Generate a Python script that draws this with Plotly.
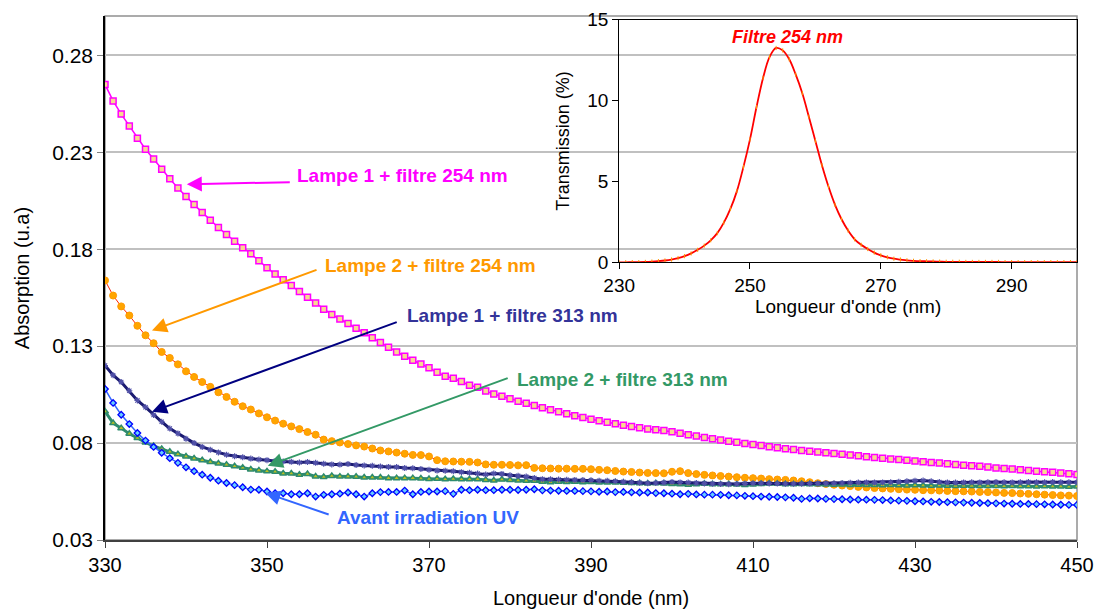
import plotly.graph_objects as go

# ---------------- data ----------------
wavelength = list(range(330, 451))

lampe1_254 = [
    0.2650, 0.2565, 0.2497, 0.2435, 0.2372, 0.2316, 0.2265, 0.2213, 0.2163, 0.2116,
    0.2072, 0.2030, 0.1990, 0.1950, 0.1912, 0.1876, 0.1841, 0.1808, 0.1777, 0.1740,
    0.1705, 0.1672, 0.1642, 0.1613, 0.1582, 0.1552, 0.1522, 0.1490, 0.1463, 0.1440,
    0.1417, 0.1392, 0.1369, 0.1343, 0.1319, 0.1294, 0.1270, 0.1248, 0.1227, 0.1208,
    0.1188, 0.1165, 0.1145, 0.1134, 0.1117, 0.1098, 0.1088, 0.1068, 0.1053, 0.1042,
    0.1029, 0.1016, 0.1005, 0.0994, 0.0982, 0.0972, 0.0962, 0.0951, 0.0941, 0.0932,
    0.0923, 0.0915, 0.0907, 0.0900, 0.0892, 0.0886, 0.0879, 0.0872, 0.0869, 0.0865,
    0.0858, 0.0851, 0.0843, 0.0836, 0.0829, 0.0822, 0.0816, 0.0810, 0.0804, 0.0798,
    0.0793, 0.0787, 0.0781, 0.0776, 0.0771, 0.0767, 0.0762, 0.0758, 0.0754, 0.0750,
    0.0746, 0.0742, 0.0738, 0.0734, 0.0730, 0.0726, 0.0722, 0.0718, 0.0715, 0.0711,
    0.0708, 0.0704, 0.0700, 0.0697, 0.0693, 0.0690, 0.0686, 0.0683, 0.0680, 0.0676,
    0.0672, 0.0669, 0.0666, 0.0662, 0.0659, 0.0655, 0.0652, 0.0649, 0.0645, 0.0642,
    0.0638]

lampe2_254 = [
    0.1639, 0.1561, 0.1505, 0.1458, 0.1405, 0.1356, 0.1315, 0.1270, 0.1239, 0.1206,
    0.1170, 0.1141, 0.1115, 0.1090, 0.1062, 0.1038, 0.1013, 0.0990, 0.0973, 0.0953,
    0.0933, 0.0916, 0.0900, 0.0886, 0.0872, 0.0857, 0.0843, 0.0818, 0.0810, 0.0803,
    0.0795, 0.0788, 0.0782, 0.0772, 0.0762, 0.0757, 0.0751, 0.0745, 0.0739, 0.0738,
    0.0731, 0.0712, 0.0706, 0.0705, 0.0704, 0.0703, 0.0700, 0.0690, 0.0688, 0.0688,
    0.0687, 0.0685, 0.0686, 0.0672, 0.0670, 0.0669, 0.0668, 0.0668, 0.0667, 0.0667,
    0.0665, 0.0662, 0.0660, 0.0656, 0.0653, 0.0651, 0.0648, 0.0646, 0.0645, 0.0644,
    0.0652, 0.0655, 0.0645, 0.0640, 0.0636, 0.0633, 0.0630, 0.0627, 0.0624, 0.0621,
    0.0619, 0.0617, 0.0614, 0.0612, 0.0610, 0.0607, 0.0603, 0.0598, 0.0593, 0.0589,
    0.0585, 0.0581, 0.0578, 0.0574, 0.0571, 0.0568, 0.0566, 0.0564, 0.0562, 0.0560,
    0.0559, 0.0557, 0.0556, 0.0555, 0.0553, 0.0552, 0.0551, 0.0550, 0.0548, 0.0547,
    0.0545, 0.0543, 0.0542, 0.0540, 0.0538, 0.0536, 0.0534, 0.0532, 0.0530, 0.0529,
    0.0527]

lampe1_313 = [
    0.1200, 0.1150, 0.1115, 0.1070, 0.1020, 0.0985, 0.0945, 0.0910, 0.0875, 0.0850,
    0.0822, 0.0800, 0.0780, 0.0765, 0.0752, 0.0740, 0.0732, 0.0727, 0.0720, 0.0715,
    0.0712, 0.0707, 0.0705, 0.0703, 0.0700, 0.0702, 0.0698, 0.0693, 0.0690, 0.0689,
    0.0692, 0.0687, 0.0684, 0.0683, 0.0679, 0.0677, 0.0676, 0.0671, 0.0670, 0.0666,
    0.0662, 0.0658, 0.0657, 0.0655, 0.0650, 0.0647, 0.0643, 0.0638, 0.0643, 0.0641,
    0.0634, 0.0631, 0.0627, 0.0620, 0.0614, 0.0613, 0.0612, 0.0611, 0.0610, 0.0609,
    0.0608, 0.0606, 0.0605, 0.0603, 0.0600, 0.0598, 0.0595, 0.0593, 0.0594, 0.0596,
    0.0599, 0.0597, 0.0596, 0.0594, 0.0592, 0.0590, 0.0589, 0.0588, 0.0589, 0.0591,
    0.0593, 0.0593, 0.0592, 0.0591, 0.0590, 0.0590, 0.0590, 0.0591, 0.0592, 0.0593,
    0.0593, 0.0594, 0.0595, 0.0596, 0.0597, 0.0596, 0.0597, 0.0598, 0.0600, 0.0603,
    0.0606, 0.0607, 0.0603, 0.0599, 0.0597, 0.0596, 0.0597, 0.0598, 0.0597, 0.0598,
    0.0599, 0.0598, 0.0597, 0.0598, 0.0599, 0.0598, 0.0598, 0.0599, 0.0598, 0.0598,
    0.0598]

lampe2_313 = [
    0.0963, 0.0903, 0.0877, 0.0848, 0.0826, 0.0803, 0.0785, 0.0769, 0.0755, 0.0742,
    0.0731, 0.0720, 0.0711, 0.0702, 0.0695, 0.0688, 0.0680, 0.0673, 0.0664, 0.0659,
    0.0654, 0.0652, 0.0643, 0.0643, 0.0637, 0.0640, 0.0628, 0.0625, 0.0630, 0.0627,
    0.0627, 0.0626, 0.0622, 0.0622, 0.0622, 0.0619, 0.0619, 0.0619, 0.0619, 0.0617,
    0.0615, 0.0616, 0.0613, 0.0615, 0.0613, 0.0613, 0.0614, 0.0610, 0.0607, 0.0612,
    0.0610, 0.0607, 0.0605, 0.0605, 0.0600, 0.0598, 0.0601, 0.0599, 0.0600, 0.0598,
    0.0599, 0.0597, 0.0596, 0.0597, 0.0595, 0.0594, 0.0593, 0.0592, 0.0593, 0.0591,
    0.0589, 0.0587, 0.0585, 0.0588, 0.0590, 0.0588, 0.0587, 0.0588, 0.0586, 0.0584,
    0.0586, 0.0589, 0.0591, 0.0590, 0.0588, 0.0587, 0.0589, 0.0588, 0.0587, 0.0586,
    0.0585, 0.0586, 0.0584, 0.0585, 0.0584, 0.0584, 0.0583, 0.0584, 0.0582, 0.0581,
    0.0582, 0.0581, 0.0580, 0.0581, 0.0580, 0.0579, 0.0580, 0.0579, 0.0578, 0.0579,
    0.0578, 0.0577, 0.0578, 0.0577, 0.0577, 0.0576, 0.0577, 0.0576, 0.0576, 0.0575,
    0.0576]

avant_uv = [
    0.1079, 0.1007, 0.0946, 0.0898, 0.0852, 0.0813, 0.0780, 0.0750, 0.0722, 0.0698,
    0.0675, 0.0655, 0.0637, 0.0621, 0.0606, 0.0594, 0.0583, 0.0572, 0.0560, 0.0559,
    0.0550, 0.0541, 0.0541, 0.0536, 0.0536, 0.0541, 0.0524, 0.0533, 0.0536, 0.0539,
    0.0545, 0.0536, 0.0524, 0.0541, 0.0547, 0.0548, 0.0548, 0.0555, 0.0536, 0.0548,
    0.0550, 0.0550, 0.0552, 0.0538, 0.0559, 0.0557, 0.0559, 0.0557, 0.0557, 0.0559,
    0.0559, 0.0558, 0.0559, 0.0562, 0.0556, 0.0555, 0.0554, 0.0553, 0.0553, 0.0552,
    0.0551, 0.0549, 0.0550, 0.0547, 0.0548, 0.0546, 0.0545, 0.0545, 0.0542, 0.0541,
    0.0539, 0.0536, 0.0538, 0.0535, 0.0534, 0.0534, 0.0533, 0.0531, 0.0530, 0.0528,
    0.0526, 0.0524, 0.0523, 0.0522, 0.0520, 0.0518, 0.0512, 0.0515, 0.0514, 0.0512,
    0.0511, 0.0510, 0.0509, 0.0508, 0.0508, 0.0507, 0.0506, 0.0504, 0.0503, 0.0502,
    0.0500, 0.0499, 0.0497, 0.0496, 0.0495, 0.0494, 0.0493, 0.0492, 0.0491, 0.0490,
    0.0489, 0.0488, 0.0487, 0.0486, 0.0486, 0.0485, 0.0484, 0.0483, 0.0482, 0.0481,
    0.0481]

filter_wavelength = list(range(230, 301))
filtre_254 = [
    0.00, 0.00, 0.01, 0.01, 0.02, 0.04, 0.07, 0.11, 0.17, 0.26,
    0.38, 0.55, 0.77, 1.03, 1.36, 1.80, 2.45, 3.30, 4.40, 5.90,
    7.60, 9.60, 11.40, 12.70, 13.25, 13.10, 12.55, 11.60, 10.45, 9.00,
    7.50, 6.00, 4.68, 3.55, 2.66, 1.96, 1.42, 1.08, 0.82, 0.60,
    0.43, 0.31, 0.22, 0.17, 0.12, 0.09, 0.07, 0.06, 0.05, 0.04,
    0.03, 0.03, 0.03, 0.02, 0.02, 0.02, 0.02, 0.02, 0.02, 0.01,
    0.01, 0.01, 0.01, 0.01, 0.01, 0.01, 0.01, 0.01, 0.01, 0.01,
    0.01]

y_ticks = [0.03, 0.08, 0.13, 0.18, 0.23, 0.28]
x_ticks = [330, 350, 370, 390, 410, 430, 450]
inset_x_ticks = [230, 250, 270, 290]
inset_y_ticks = [0, 5, 10, 15]

FONT = "Liberation Sans, Arial, sans-serif"

fig = go.Figure()

fig.add_trace(go.Scatter(
    x=wavelength, y=lampe1_254, mode="lines+markers", name="Lampe 1 + filtre 254 nm",
    line=dict(color="#FF00FF", width=1.5),
    marker=dict(symbol="square", size=6, color="#F8D890", line=dict(color="#FF00FF", width=1.5))))
fig.add_trace(go.Scatter(
    x=wavelength, y=lampe2_254, mode="lines+markers", name="Lampe 2 + filtre 254 nm",
    line=dict(color="#FF2000", width=1),
    marker=dict(symbol="circle", size=7, color="#FFA500", line=dict(color="#FF9900", width=1))))
fig.add_trace(go.Scatter(
    x=wavelength, y=lampe2_313, mode="lines+markers", name="Lampe 2 + filtre 313 nm",
    line=dict(color="#2E8B6E", width=3),
    marker=dict(symbol="triangle-up", size=6, color="#B8C020", line=dict(color="#2E8B6E", width=1.5))))
fig.add_trace(go.Scatter(
    x=wavelength, y=lampe1_313, mode="lines+markers", name="Lampe 1 + filtre 313 nm",
    line=dict(color="#1A1A70", width=3),
    marker=dict(symbol="asterisk-open", size=5, color="#5050A8", line=dict(color="#5050A8", width=1.2))))
fig.add_trace(go.Scatter(
    x=wavelength, y=avant_uv, mode="lines+markers", name="Avant irradiation UV",
    line=dict(color="#3366FF", width=1.5),
    marker=dict(symbol="diamond", size=5, color="#66CCFF", line=dict(color="#0000FF", width=1.3))))

# inset
fig.add_trace(go.Scatter(
    x=filter_wavelength, y=filtre_254, mode="lines+markers", name="Filtre 254 nm",
    xaxis="x2", yaxis="y2",
    line=dict(color="#FF0000", width=1.8, shape="spline"),
    marker=dict(symbol="line-ns-open", size=3, color="#FF9900", line=dict(color="#FF9900", width=1))))

# annotations: arrows (tip = x,y ; tail = ax,ay) and labels
arrows = [
    (340.1, 0.2135, 353.0, 0.2146, "#FF00FF"),
    (335.8, 0.1381, 356.3, 0.1696, "#FF9900"),
    (335.8, 0.0962, 366.2, 0.1427, "#000080"),
    (350.1, 0.0683, 379.9, 0.1138, "#339966"),
    (349.8, 0.0543, 357.8, 0.0429, "#3366FF"),
]
labels = [
    (353.5, 0.2182, "Lampe 1 + filtre 254 nm", "#FF00FF"),
    (356.9, 0.1717, "Lampe 2 + filtre 254 nm", "#FF9900"),
    (367.0, 0.1458, "Lampe 1 + filtre 313 nm", "#333399"),
    (380.6, 0.1127, "Lampe 2 + filtre 313 nm", "#339966"),
    (358.4, 0.0414, "Avant irradiation UV", "#3366FF"),
]
annotations = []
for x, y, ax, ay, c in arrows:
    annotations.append(dict(x=x, y=y, ax=ax, ay=ay, xref="x", yref="y", axref="x", ayref="y",
                            text="", showarrow=True, arrowhead=2, arrowsize=1.5,
                            arrowwidth=2, arrowcolor=c))
for x, y, t, c in labels:
    annotations.append(dict(x=x, y=y, xref="x", yref="y", text="<b>" + t + "</b>",
                            showarrow=False, xanchor="left", yanchor="middle",
                            font=dict(family=FONT, size=19, color=c)))
annotations.append(dict(x=255.7, y=13.3, xref="x2", yref="y2", text="<b><i>Filtre 254 nm</i></b>",
                        showarrow=False, xanchor="center", yanchor="bottom", yshift=-2,
                        font=dict(family=FONT, size=18, color="#FF0000")))

fig.update_layout(
    width=1097, height=612,
    margin=dict(l=105, r=20, t=16, b=72),
    paper_bgcolor="white", plot_bgcolor="rgba(0,0,0,0)",
    showlegend=False,
    font=dict(family=FONT, color="black"),
    annotations=annotations,
    shapes=[dict(type="rect", xref="paper", yref="paper", x0=0, x1=1, y0=0, y1=1,
                 line=dict(color="#909090", width=1.5), layer="below")],
    xaxis=dict(domain=[0, 1], range=[330, 450], tickvals=x_ticks, ticks="outside", ticklen=6,
               tickcolor="#404040", showline=True, linecolor="#404040", linewidth=2,
               showgrid=False, zeroline=False, tickfont=dict(size=20), automargin=False,
               title=dict(text="Longueur d'onde (nm)", font=dict(size=20), standoff=16)),
    yaxis=dict(domain=[0, 1], range=[0.03, 0.3003], tickvals=y_ticks,
               ticktext=["%.2f" % v for v in y_ticks], ticks="outside", ticklen=6,
               tickcolor="#808080", showline=True, linecolor="black", linewidth=1.5,
               showgrid=True, gridcolor="#C0C0C0", gridwidth=1.5, zeroline=False,
               tickfont=dict(size=21), automargin=False,
               title=dict(text="Absorption (u.a)", font=dict(size=20), standoff=17)),
    xaxis2=dict(domain=[0.529, 1.0], anchor="y2", range=[230, 300], tickvals=inset_x_ticks,
                ticks="outside", ticklen=6, tickcolor="black", showline=True, linecolor="black",
                linewidth=1.2, mirror=True, showgrid=False, zeroline=False,
                tickfont=dict(size=19), automargin=False,
                title=dict(text="Longueur d'onde (nm)", font=dict(size=19), standoff=2)),
    yaxis2=dict(domain=[0.530, 0.993], anchor="x2", range=[0, 15], tickvals=inset_y_ticks,
                ticks="outside", ticklen=6, tickcolor="black", showline=True, linecolor="black",
                linewidth=1.2, mirror=True, showgrid=False, zeroline=False,
                tickfont=dict(size=19), automargin=False,
                title=dict(text="Transmission (%)", font=dict(size=18), standoff=12)),
)

# remove the default page margin so the figure fills the 1097x612 window exactly
fig.write_html("out.html",
               config={"displayModeBar": False},
               post_script="document.body.style.margin='0';document.body.style.overflow='hidden';")
